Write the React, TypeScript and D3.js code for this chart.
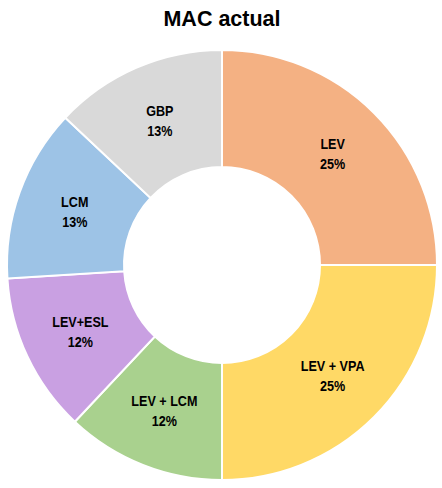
import React from "react";
import * as d3 from "d3";

const categories: string[] = ["LEV", "LEV + VPA", "LEV + LCM", "LEV+ESL", "LCM", "GBP"];
const values: number[] = [25, 25, 12, 12, 13, 13];
const percentLabels: string[] = ["25%", "25%", "12%", "12%", "13%", "13%"];
const colors: string[] = ["#F4B183", "#FFD966", "#A9D18E", "#C9A0E2", "#9DC3E6", "#D9D9D9"];
const title = "MAC actual";

const W = 442;
const H = 488;
const cx = 222;
const cy = 265;
const outerR = 215;
const innerR = 98;

export default function App() {
  const data = categories.map((c, i) => ({ name: c, value: values[i], label: percentLabels[i], color: colors[i] }));
  const pie = d3.pie<any>().value((d: any) => d.value).sort(null);
  const arcs = pie(data);
  const arcGen = d3.arc<any>().innerRadius(innerR).outerRadius(outerR);
  const labelFont = "'Liberation Sans', Arial, sans-serif";
  return (
    <svg width={W} height={H} style={{ position: "absolute", left: 0, top: 0, background: "#fff" }}>
      <text
        x={222}
        y={26}
        textAnchor="middle"
        fontFamily="'Liberation Sans', Arial, sans-serif"
        fontWeight="bold"
        fontSize={21.5}
        fill="#000"
      >
        {title}
      </text>
      <g transform={`translate(${cx},${cy})`}>
        {arcs.map((a, i) => (
          <path key={i} d={arcGen(a) as string} fill={a.data.color} stroke="#fff" strokeWidth={2} />
        ))}
        {arcs.map((a, i) => {
          const [lx, ly] = arcGen.centroid(a);
          return (
            <g
              key={"l" + i}
              transform={`translate(${lx},${ly}) scale(0.84,1)`}
              fontFamily={labelFont}
              fontWeight="bold"
              fontSize={15}
              fill="#000"
              textAnchor="middle"
            >
              <text x={0} y={-5}>{a.data.name}</text>
              <text x={0} y={15}>{a.data.label}</text>
            </g>
          );
        })}
      </g>
    </svg>
  );
}
